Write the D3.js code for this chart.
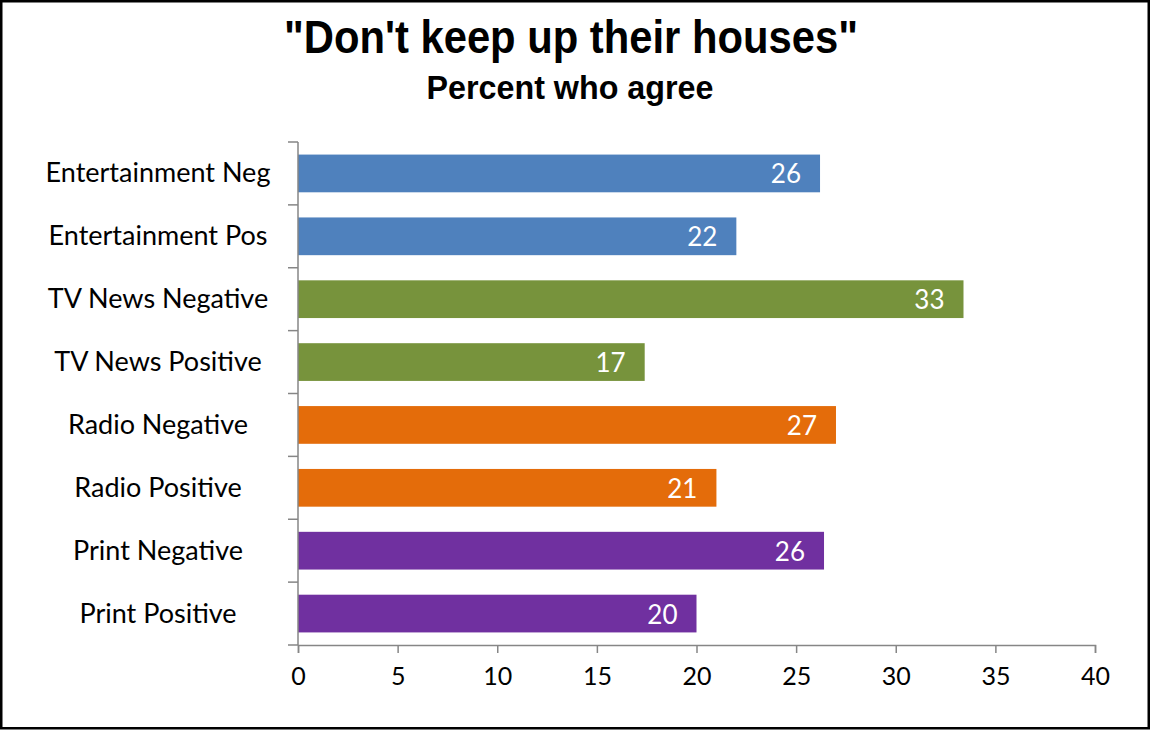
<!DOCTYPE html>
<html><head><meta charset="utf-8">
<script src="https://cdn.jsdelivr.net/npm/d3@7"></script>
<style>body{margin:0;background:#fff}svg{display:block}</style>
</head><body>
<script>
const categories = ["Entertainment Neg","Entertainment Pos","TV News Negative","TV News Positive","Radio Negative","Radio Positive","Print Negative","Print Positive"];
const values = [26.2, 22.0, 33.4, 17.4, 27.0, 21.0, 26.4, 20.0];
const valueLabels = ["26","22","33","17","27","21","26","20"];
const colors = ["#4F81BD","#4F81BD","#77933C","#77933C","#E46C0A","#E46C0A","#7030A0","#7030A0"];
const xTicks = [0,5,10,15,20,25,30,35,40];
const title = "\"Don't keep up their houses\"";
const subtitle = "Percent who agree";

const W = 1154, H = 731;
const svg = d3.select("body").append("svg").attr("width", W).attr("height", H);
svg.append("rect").attr("x",1.25).attr("y",1.25).attr("width",1147.5).attr("height",727)
  .attr("fill","#fff").attr("stroke","#000").attr("stroke-width",2.5);

const x = d3.scaleLinear().domain([0,40]).range([298,1095]);
const y = d3.scaleBand().domain(categories).range([142,645]).paddingInner(0.4).paddingOuter(0.2);

svg.append("text").attr("x",571).attr("y",53).attr("text-anchor","middle")
  .attr("font-family","Liberation Sans Narrow, Liberation Sans, Arial").attr("font-weight","bold")
  .attr("font-size",47).attr("textLength",574).attr("lengthAdjust","spacingAndGlyphs").text(title);
svg.append("text").attr("x",570).attr("y",99).attr("text-anchor","middle")
  .attr("font-family","Liberation Sans Narrow, Liberation Sans, Arial").attr("font-weight","bold")
  .attr("font-size",33).attr("textLength",287).attr("lengthAdjust","spacingAndGlyphs").text(subtitle);

// bars
svg.append("g").selectAll("rect").data(categories).join("rect")
  .attr("x", x(0)).attr("y", d=>y(d)).attr("height", y.bandwidth())
  .attr("width", (d,i)=>x(values[i])-x(0)).attr("fill",(d,i)=>colors[i]);

svg.append("g").selectAll("text").data(categories).join("text")
  .attr("x",(d,i)=>x(values[i])-19).attr("y",d=>y(d)+y.bandwidth()/2+10)
  .attr("text-anchor","end").attr("fill","#fff").attr("font-family","Lato, Open Sans, sans-serif")
  .attr("font-size",26).text((d,i)=>valueLabels[i]);

// y axis
const yAxis = svg.append("g").attr("transform",`translate(${x(0)},0)`);
yAxis.append("line").attr("x1",0).attr("x2",0).attr("y1",142).attr("y2",645).attr("stroke","#868686").attr("stroke-width",1.5);
const step = y.step();
const bounds = d3.range(categories.length+1).map(i=>142+i*step);
yAxis.selectAll("line.t").data(bounds).join("line").attr("class","t")
  .attr("x1",-10).attr("x2",0).attr("y1",d=>d).attr("y2",d=>d).attr("stroke","#868686").attr("stroke-width",1.5);
svg.append("g").selectAll("text").data(categories).join("text")
  .attr("x",158).attr("y",d=>y(d)+y.bandwidth()/2+9).attr("text-anchor","middle")
  .attr("font-family","Lato, Open Sans, sans-serif").attr("font-size",27).attr("fill","#000").text(d=>d);

// x axis
const xAxis = d3.axisBottom(x).tickValues(xTicks).tickSize(8).tickPadding(14).tickFormat(d3.format("d"));
const gx = svg.append("g").attr("transform","translate(0,645)").call(xAxis);
gx.select(".domain").attr("stroke","#868686").attr("stroke-width",1.5);
gx.selectAll(".tick line").attr("stroke","#868686").attr("stroke-width",1.5);
gx.selectAll(".tick text").attr("font-family","Lato, Open Sans, sans-serif").attr("font-size",25).attr("fill","#000");
</script>
</body></html>
